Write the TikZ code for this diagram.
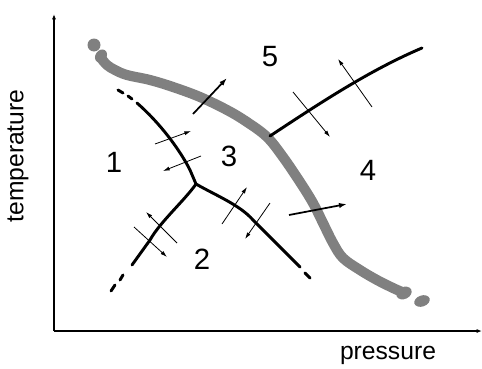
\documentclass[tikz,border=0pt]{standalone}
\usepackage{fontspec}
\setmainfont{Liberation Sans}
\usetikzlibrary{arrows.meta}
\begin{document}
\begin{tikzpicture}[x=0.75pt,y=-0.75pt,
  axis/.style={line width=0.8pt,-{Latex[length=4pt,width=3pt]}},
  gray curve/.style={line width=7.6pt,color=graycol,line cap=round,line join=round},
  boundary/.style={line width=2.2pt,line cap=round,line join=round},
  bdash/.style={line width=2.2pt,line cap=round},
  thinarrow/.style={line width=0.6pt,-{Latex[length=5pt,width=3pt]}},
  bigarrow/.style={line width=1.3pt,-{Latex[length=6pt,width=4pt]}},
  digit/.style={font=\fontsize{22}{26}\selectfont},
  axlabel/.style={font=\fontsize{18.5}{22}\selectfont}]
\definecolor{graycol}{HTML}{808080}
\useasboundingbox (0,0) rectangle (482,368);
% axes
\coordinate (O) at (54,331);
\coordinate (ytop) at (54,14);
\coordinate (xend) at (482,331);
\draw[axis] (O) -- (ytop);
\draw[axis] (O) -- (xend);
\node[axlabel,rotate=90] (tlab) at (18,156) {temperature};
\node[axlabel] (plab) at (388,355) {pressure};
% gray curve
\draw[gray curve] plot[smooth,tension=0.6] coordinates {(101,58) (107,65) (115,70) (127,75) (150,80) (173,87) (200,97) (227,110) (247,122) (267,137) (283,157) (300,182) (313,203) (323,223) (333,243) (343,258) (360,270) (377,280) (393,288) (402,292)};
\fill[graycol] (94,45) circle (6.5);
\fill[graycol,rotate around={55:(101,56)}] (101,56) ellipse (7 and 5.5);
\fill[graycol,rotate around={25:(404,293)}] (404,293) ellipse (8 and 6);
\fill[graycol,rotate around={20:(422,301)}] (422,301) ellipse (8 and 5.5);
% boundaries
\coordinate (J) at (196,184);
\draw[boundary] (137,103) .. controls (160,123) and (180,150) .. (190,170) -- (J);
\draw[bdash] (118,90) -- (123,93);
\draw[bdash] (128,96) -- (132,99);
\draw[boundary] (J) .. controls (185,200) and (160,222) .. (150,240) -- (132,265);
\draw[bdash] (123,275) -- (120,280);
\draw[bdash] (115,285) -- (111,291);
\draw[boundary] (J) .. controls (215,195) and (240,205) .. (253,220) -- (300,267);
\draw[bdash] (305,273) -- (310,278);
\coordinate (A) at (270,136);
\coordinate (B) at (422,48);
\draw[boundary] (A) .. controls (320,103) and (370,70) .. (B);
% arrows
\coordinate (a1s) at (155,144); \coordinate (a1e) at (191,131);
\coordinate (a2s) at (201,156); \coordinate (a2e) at (163,171);
\coordinate (a3s) at (177,243); \coordinate (a3e) at (146,212);
\coordinate (a4s) at (134,227); \coordinate (a4e) at (167,257);
\coordinate (a5s) at (222,224); \coordinate (a5e) at (247,187);
\coordinate (a6s) at (270,203); \coordinate (a6e) at (245,239);
\coordinate (a7s) at (293,92);  \coordinate (a7e) at (330,137);
\coordinate (a8s) at (372,107); \coordinate (a8e) at (338,59);
\coordinate (b1s) at (193,114); \coordinate (b1e) at (227,78);
\coordinate (b2s) at (289,215); \coordinate (b2e) at (347,204);
\foreach \s/\e in {a1s/a1e,a2s/a2e,a3s/a3e,a4s/a4e,a5s/a5e,a6s/a6e,a7s/a7e,a8s/a8e}
  \draw[thinarrow] (\s) -- (\e);
\draw[bigarrow] (b1s) -- (b1e);
\draw[bigarrow] (b2s) -- (b2e);
% region labels
\node[digit] (r1) at (114,162) {1};
\node[digit] (r2) at (202,259) {2};
\node[digit] (r3) at (229,156) {3};
\node[digit] (r4) at (368,170) {4};
\node[digit] (r5) at (270,57) {5};
\end{tikzpicture}
\end{document}
